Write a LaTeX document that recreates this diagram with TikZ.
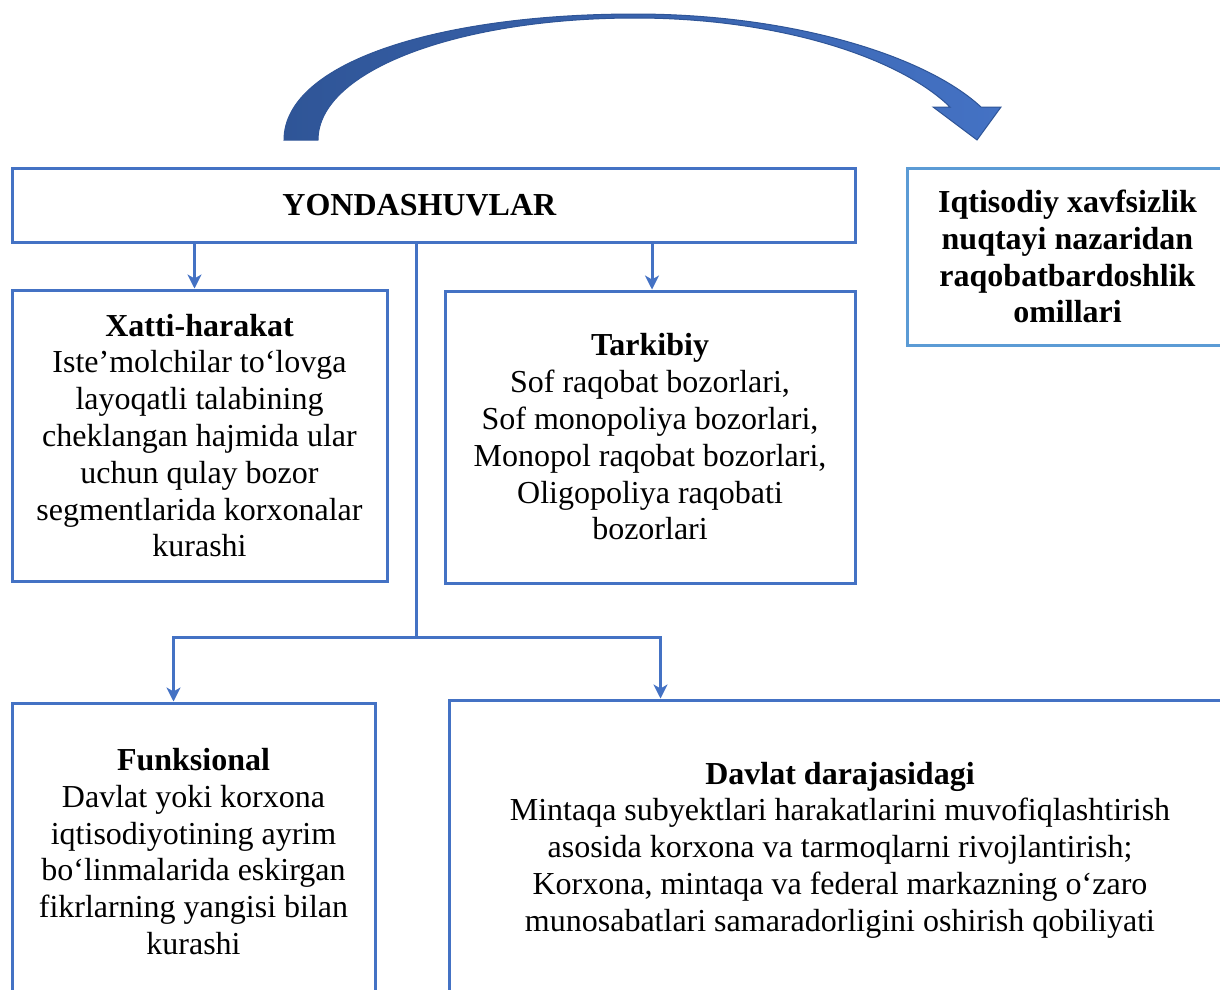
\documentclass[tikz,border=0pt]{standalone}
\usepackage{fontspec}
\setmainfont{Liberation Serif}
\usetikzlibrary{arrows.meta, positioning}
\definecolor{boxblue}{HTML}{4472C4}
\definecolor{lightblue}{HTML}{5B9BD5}
\definecolor{darkblue}{HTML}{2F5597}
\newcommand{\boxfont}{\fontsize{32}{36.8}\selectfont}
\tikzstyle{box}   = [rectangle, draw=boxblue, line width=3pt, align=center,
                     inner sep=0pt, font=\boxfont]
\tikzstyle{link}  = [draw=boxblue, line width=3pt]
\tikzstyle{arrow} = [link, -{Stealth[length=14pt, width=14pt, inset=4pt]}]
\begin{document}
\begin{tikzpicture}[x=1pt, y=-1pt]
  \useasboundingbox (0,0) rectangle (1220,989);
  \clip (0,0) rectangle (1220,989);

  \node[box, minimum width=843, minimum height=74] (yond) at (433.5,205)
        {\textbf{YONDASHUVLAR}\hspace*{28pt}};
  \node[box, draw=lightblue, font=\boxfont\bfseries,
        minimum width=321, minimum height=177] (iqt) at (1067.5,256.5)
        {Iqtisodiy xavfsizlik\\nuqtayi nazaridan\\raqobatbardoshlik\\omillari};
  \node[box, minimum width=375, minimum height=291] (xatti) at (199.5,435.5)
        {\textbf{Xatti-harakat}\\Iste’molchilar to‘lovga\\layoqatli talabining\\cheklangan hajmida ular\\uchun qulay bozor\\segmentlarida korxonalar\\kurashi};
  \node[box, minimum width=410, minimum height=292] (tark) at (650,437)
        {\textbf{Tarkibiy}\\Sof raqobat bozorlari,\\Sof monopoliya bozorlari,\\Monopol raqobat bozorlari,\\Oligopoliya raqobati\\bozorlari};
  \node[box, minimum width=363, minimum height=297] (funk) at (193.5,851.5)
        {\textbf{Funksional}\\Davlat yoki korxona\\iqtisodiyotining ayrim\\bo‘linmalarida eskirgan\\fikrlarning yangisi bilan\\kurashi};
  \node[box, minimum width=782, minimum height=300] (davl) at (840,850)
        {\textbf{Davlat darajasidagi}\\Mintaqa subyektlari harakatlarini muvofiqlashtirish\\asosida korxona va tarmoqlarni rivojlantirish;\\Korxona, mintaqa va federal markazning o‘zaro\\munosabatlari samaradorligini oshirish qobiliyati};

  \coordinate (split) at (416,637);

  \draw[arrow] ([xshift=-5]xatti.north |- yond.south) -- ([xshift=-5]xatti.north);
  \draw[arrow] ([xshift=2]tark.north |- yond.south) -- ([xshift=2]tark.north);
  \draw[link]  (yond.south -| split) -- (split);
  \draw[arrow] (split) -| ([xshift=163]funk.north west);
  \draw[arrow] (split) -| ([xshift=213]davl.north west);

  % curved arrow over the top
  \shade[left color=darkblue, right color=boxblue, draw=darkblue, line width=1pt]
    (284,140) .. controls (284,62) and (440,14) .. (635,14)
    .. controls (790,14) and (925,55) .. (981,107)
    -- (1001,107) -- (977,140) -- (933,107) -- (950,107)
    .. controls (900,58) and (780,18) .. (635,18)
    .. controls (460,18) and (318,70) .. (318,140) -- cycle;
\end{tikzpicture}
\end{document}
